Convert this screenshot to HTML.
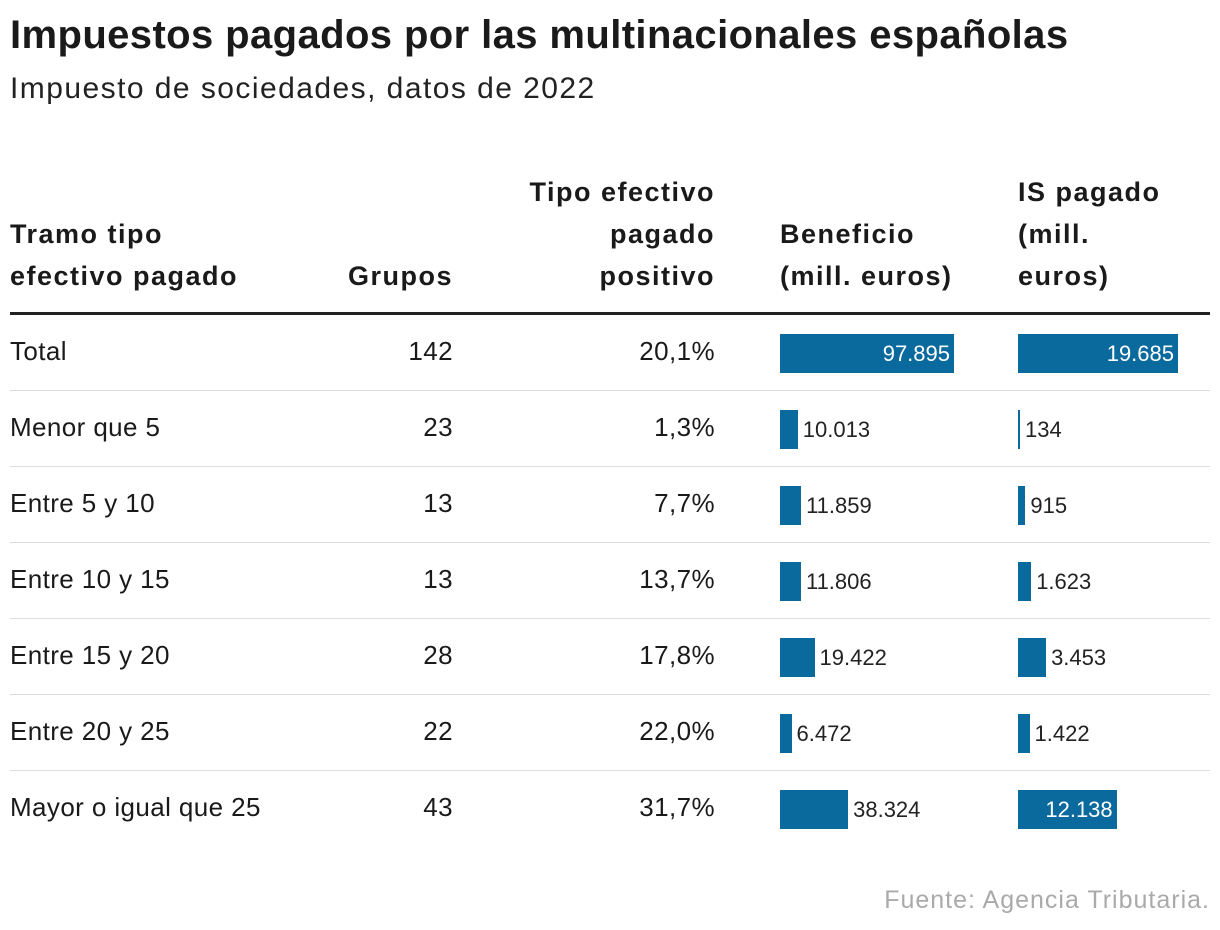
<!DOCTYPE html>
<html><head><meta charset="utf-8">
<style>
body{margin:0;background:#fff;width:1220px;height:930px;position:relative;font-family:"Liberation Sans",Arial,sans-serif;color:#1a1a1a;overflow:hidden}
.abs{position:absolute;white-space:nowrap}
#title{left:10px;top:13px;font-size:40px;font-weight:bold;letter-spacing:0.4px}
#subtitle{left:10px;top:72px;font-size:30px;color:#222;letter-spacing:1.45px}
.hd{font-weight:bold;font-size:27px;line-height:42px;letter-spacing:1.5px}
.cell{font-size:26px;letter-spacing:0.4px}
.sep{position:absolute;left:10px;width:1200px;height:1px;background:#ddd}
.bar{position:absolute;background:#0a6a9e}
.lbl{position:absolute;font-size:22px;white-space:nowrap}
#source{right:10px;top:886px;font-size:25px;color:#aaa;letter-spacing:1px}
</style></head><body>
<div id="title" class="abs">Impuestos pagados por las multinacionales españolas</div>
<div id="subtitle" class="abs">Impuesto de sociedades, datos de 2022</div>

<div class="abs hd" style="left:10px;top:213px">Tramo tipo<br>efectivo pagado</div>
<div class="abs hd" style="right:767px;top:255px;text-align:right">Grupos</div>
<div class="abs hd" style="right:505px;top:171px;text-align:right">Tipo efectivo<br>pagado<br>positivo</div>
<div class="abs hd" style="left:780px;top:213px">Beneficio<br>(mill. euros)</div>
<div class="abs hd" style="left:1018px;top:171px">IS pagado<br>(mill.<br>euros)</div>
<div style="position:absolute;left:10px;top:312px;width:1200px;height:3px;background:#222"></div>

<div id="rows"></div>
<div id="source" class="abs">Fuente: Agencia Tributaria.</div>

<script>
const categories=["Total","Menor que 5","Entre 5 y 10","Entre 10 y 15","Entre 15 y 20","Entre 20 y 25","Mayor o igual que 25"];
const grupos=[142,23,13,13,28,22,43];
const tipo=["20,1%","1,3%","7,7%","13,7%","17,8%","22,0%","31,7%"];
const beneficio=[97895,10013,11859,11806,19422,6472,38324];
const isPagado=[19685,134,915,1623,3453,1422,12138];

function fmt(v){return v.toLocaleString('de-DE');}
const rowsEl=document.getElementById('rows');
const top0=315,rowH=76;
const xB=d=>d/97895*174;
const xI=d=>d/19685*160;
function bar(x0,w,v,y,name){
  const b=document.createElement('div');
  b.className='bar';
  
  
  const ww=Math.max(w,2);
  b.style.left=x0+'px';b.style.top=(y+19)+'px';b.style.width=ww+'px';b.style.height='39px';
  rowsEl.appendChild(b);
  const l=document.createElement('div');
  l.className='lbl';
  
  
  l.textContent=fmt(v);
  l.style.top=(y+26)+'px';
  if(ww>90){l.style.color='#fff';l.style.left=(x0+ww-4)+'px';l.style.transform='translateX(-100%)';}
  else{l.style.color='#222';l.style.left=(x0+ww+5)+'px';}
  rowsEl.appendChild(l);
}
categories.forEach((c,i)=>{
  const y=top0+i*rowH;
  const t=document.createElement('div');
  t.className='abs cell';t.style.left='10px';t.style.top=(y+21)+'px';t.textContent=c;
  
  
  rowsEl.appendChild(t);
  const g=document.createElement('div');
  g.className='abs cell';g.style.right='767px';g.style.top=(y+21)+'px';g.textContent=grupos[i];
  
  
  rowsEl.appendChild(g);
  const p=document.createElement('div');
  p.className='abs cell';p.style.right='505px';p.style.top=(y+21)+'px';p.textContent=tipo[i];
  
  
  rowsEl.appendChild(p);
  bar(780,xB(beneficio[i]),beneficio[i],y,'beneficio-bar');
  bar(1018,xI(isPagado[i]),isPagado[i],y,'is-bar');
  if(i<categories.length-1){
    const s=document.createElement('div');
    s.className='sep';s.style.top=(y+rowH-1)+'px';
    
    
    rowsEl.appendChild(s);
  }
});
</script>
</body></html>
